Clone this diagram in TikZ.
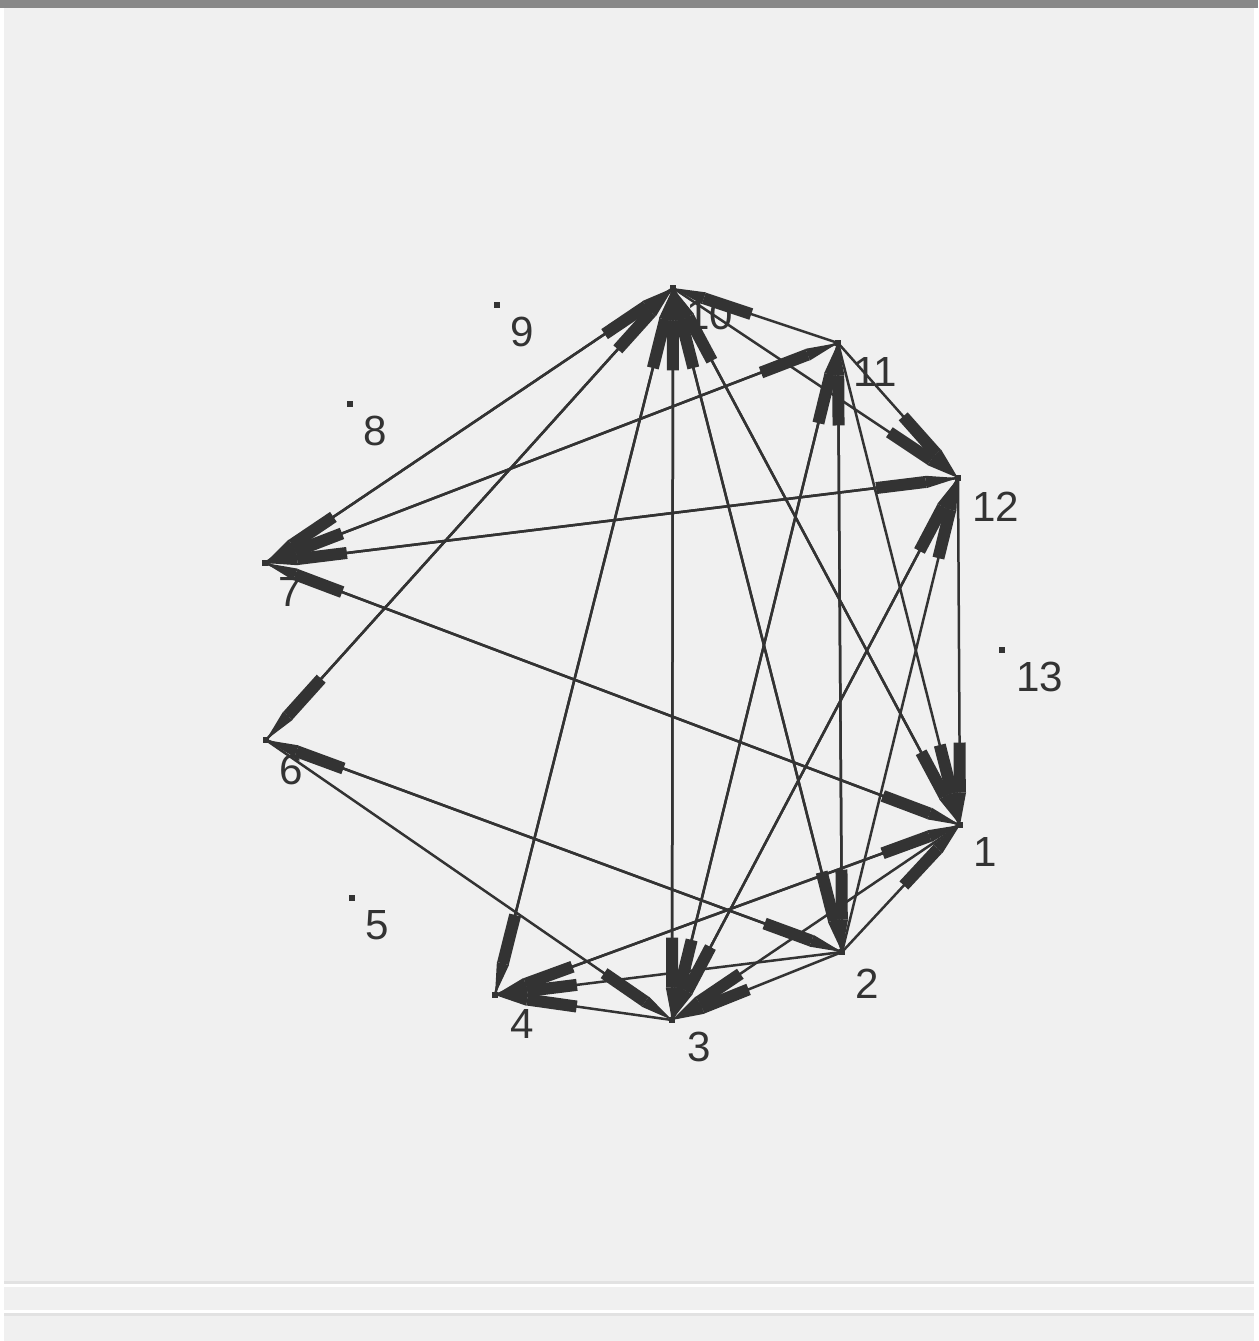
\documentclass[tikz,border=0pt]{standalone}
\usepackage{fontspec}
\setmainfont{Liberation Sans}
\usetikzlibrary{arrows.meta}
\definecolor{bg}{HTML}{F0F0F0}
\definecolor{ink}{HTML}{333333}
\definecolor{barc}{HTML}{888888}
\definecolor{sepc}{HTML}{E2E2E2}
\begin{document}
\begin{tikzpicture}[x=0.02cm,y=-0.02cm,
  edge/.style={draw=ink, line width=0.05cm,
    -{Rectangle[length=1.0cm,width=0.24cm,line width=0pt]Triangle[length=0.65cm,width=0.25cm,line width=0pt]}},
  lbl/.style={anchor=west, text=ink, font=\fontsize{24}{24}\selectfont, inner sep=0pt},
  vdot/.style={fill=ink, minimum size=0.13cm, inner sep=0pt, draw=none}]
\useasboundingbox (0,0) rectangle (1258,1341);
% frame / background
\fill[bg] (0,0) rectangle (1258,1341);
\fill[white] (0,0) rectangle (4,1341);
\fill[white] (1254,0) rectangle (1258,1341);
\fill[barc] (0,0) rectangle (1258,8);
\fill[sepc] (4,1281) rectangle (1254,1284);
\fill[white] (4,1284) rectangle (1254,1287);
\fill[white] (4,1310) rectangle (1254,1313);
\fill[sepc] (4,1313) rectangle (1254,1316);
% vertices
\node[vdot] (n1) at (960,825) {};
\node[vdot] (n2) at (842,952) {};
\node[vdot] (n3) at (672,1020) {};
\node[vdot] (n4) at (495,995) {};
\node[vdot] (n5) at (352,898) {};
\node[vdot] (n6) at (266,740) {};
\node[vdot] (n7) at (265,563) {};
\node[vdot] (n8) at (350,404) {};
\node[vdot] (n9) at (497,305) {};
\node[vdot] (n10) at (673,288) {};
\node[vdot] (n11) at (838,343) {};
\node[vdot] (n12) at (958,478) {};
\node[vdot] (n13) at (1002,650) {};
% labels (drawn beneath the edges)
\node[lbl] (l1) at (973,852) {1};
\node[lbl] (l2) at (855,984) {2};
\node[lbl] (l3) at (687,1047) {3};
\node[lbl] (l4) at (510,1024) {4};
\node[lbl] (l5) at (365,925) {5};
\node[lbl] (l6) at (279,770) {6};
\node[lbl] (l7) at (278,592) {7};
\node[lbl] (l8) at (363,431) {8};
\node[lbl] (l9) at (510,332) {9};
\node[lbl] (l10) at (686,315) {10};
\node[lbl] (l11) at (853,372) {11};
\node[lbl] (l12) at (972,507) {12};
\node[lbl] (l13) at (1016,677) {13};
% edges
\foreach \s/\t in {7/10,10/7,6/10,10/6,10/4,4/10,10/3,3/10,10/2,2/10,10/1,1/10,
  11/10,10/12,7/11,11/7,7/12,12/7,7/1,1/7,11/12,11/1,11/2,2/11,3/11,11/3,
  12/1,3/12,12/3,2/12,6/3,6/2,2/6,2/4,1/4,3/4,4/1,2/1,1/3,2/3}
  \draw[edge] (n\s.center) -- (n\t.center);
\end{tikzpicture}
\end{document}
